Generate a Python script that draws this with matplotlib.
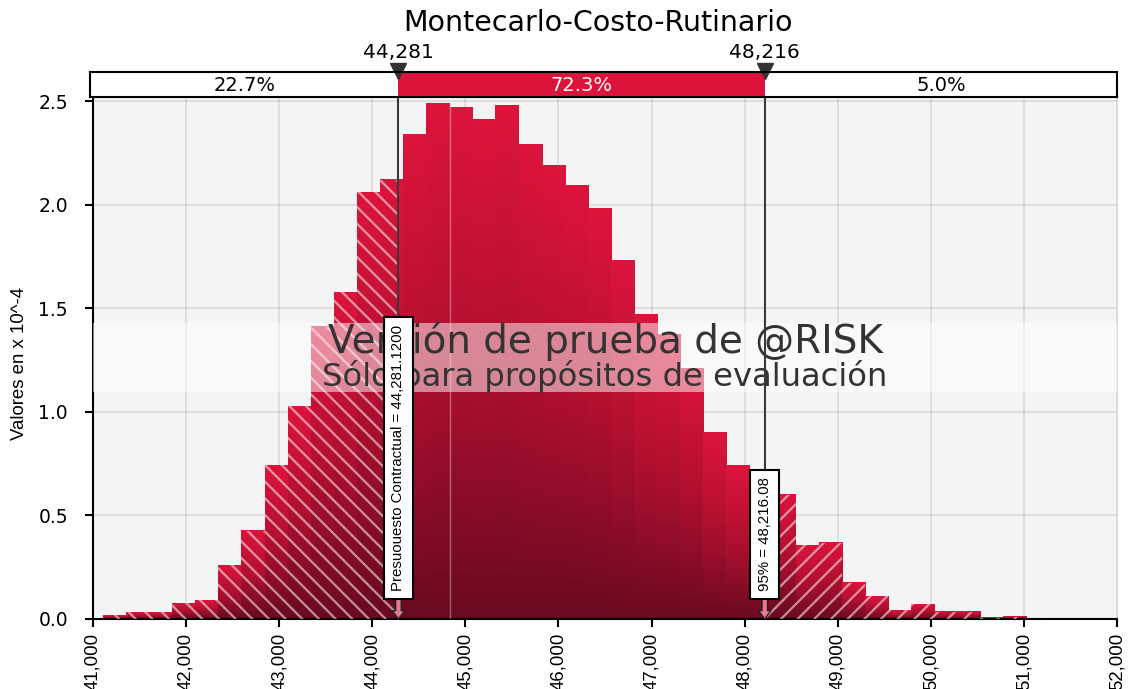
import numpy as np
import matplotlib
matplotlib.use("Agg")
import matplotlib.pyplot as plt
from matplotlib.colors import LinearSegmentedColormap
from matplotlib.patches import Rectangle

# histogram densities (x 10^-4), 40 equal bins between bin_lo and bin_hi
densities = [0.017, 0.033, 0.033, 0.075, 0.091, 0.26, 0.425, 0.742, 1.026, 1.41,
             1.576, 2.06, 2.12, 2.34, 2.49, 2.47, 2.41, 2.48, 2.29, 2.19,
             2.09, 1.98, 1.73, 1.47, 1.375, 1.21, 0.90, 0.74, 0.68, 0.60,
             0.356, 0.367, 0.175, 0.11, 0.043, 0.072, 0.034, 0.034, 0.005, 0.01]
bin_lo, bin_hi = 41107, 51027
budget = 44281.12
p95 = 48216.08
mean_mark = 44835
strip_pcts = ["22.7%", "72.3%", "5.0%"]
marker_labels = ["44,281", "48,216"]
budget_label = "Presuouesto Contractual = 44,281.1200"
p95_label = "95% = 48,216.08"
xticks = list(range(41000, 52001, 1000))
yticks = [0.0, 0.5, 1.0, 1.5, 2.0, 2.5]

NARROW = ["Liberation Sans", "DejaVu Sans"]
CRIMSON = "#dc143c"
cmap = LinearSegmentedColormap.from_list("bar", ["#6a0a20", "#b0102f", CRIMSON])
plt.rcParams["hatch.linewidth"] = 1.6

W, H = 1129, 689
fig = plt.figure(figsize=(W / 100, H / 100), dpi=100)
fig.patch.set_facecolor("white")

ax = fig.add_axes([93 / W, 1 - 619 / H, (1117 - 93) / W, (619 - 98) / H])
ax.set_facecolor("#f4f4f4")

edges = np.linspace(bin_lo, bin_hi, len(densities) + 1)
grad = np.linspace(0, 1, 64).reshape(-1, 1)
for i, h in enumerate(densities):
    l, r = edges[i], edges[i + 1]
    ax.imshow(grad, extent=(l, r, 0, h), cmap=cmap, aspect="auto",
              origin="lower", interpolation="bilinear", zorder=2)
    if l < budget:
        ax.bar(l, h, min(r, budget) - l, align="edge", facecolor="none",
               edgecolor="white", alpha=0.55, hatch="\\\\", linewidth=0, zorder=3)
    if r > p95:
        ax.bar(max(l, p95), h, r - max(l, p95), align="edge", facecolor="none",
               edgecolor="white", alpha=0.55, hatch="//", linewidth=0, zorder=3)

ax.set_xlim(41000, 52000)
ax.set_ylim(0, 2.5145)
ax.set_xticks(xticks)
ax.set_xticklabels([f"{t:,}" for t in xticks], rotation=90, fontsize=13.4, family=NARROW)
ax.set_yticks(yticks)
ax.set_yticklabels([f"{t:.1f}" for t in yticks], fontsize=13.5)
ax.grid(True, color="black", alpha=0.1, lw=1.2, zorder=4)
ax.tick_params(axis="both", direction="out", length=6, width=1.5, color="black")
ax.tick_params(axis="y", pad=12)
ax.tick_params(axis="x", pad=4)
for side in ["left", "bottom"]:
    ax.spines[side].set_linewidth(1.5)
ax.spines["top"].set_visible(False)
ax.spines["right"].set_color("#dddddd")

ax.axvline(mean_mark, color="white", alpha=0.35, lw=1, zorder=4)

# watermark band
ax.add_patch(Rectangle((0, 1.095 / 2.5145), 1, (1.428 - 1.095) / 2.5145,
                       transform=ax.transAxes, facecolor="white", alpha=0.5,
                       lw=0, zorder=5))
ax.text(0.5, 1.34 / 2.5145, "Versión de prueba de @RISK", transform=ax.transAxes,
        ha="center", va="center", fontsize=28, color="#333333", zorder=6)
ax.text(0.5, 1.17 / 2.5145, "Sólo para propósitos de evaluación", transform=ax.transAxes,
        ha="center", va="center", fontsize=23.2, color="#333333", zorder=6)

# marker lines with labels
for x, lab in [(budget, budget_label), (p95, p95_label)]:
    ax.axvline(x, color="#3a3a3a", lw=1.5, zorder=7)
    ax.annotate("", xy=(x, 0), xytext=(x, 0.115),
                arrowprops=dict(arrowstyle="simple,head_length=0.6,head_width=0.9,tail_width=0.4",
                                fc="#e87890", ec="#222222", lw=1.0, shrinkA=0, shrinkB=0),
                zorder=8)
    ax.text(x, 0.135, lab, rotation=90, ha="center", va="bottom", fontsize=10.8,
            family=NARROW, zorder=9,
            bbox=dict(boxstyle="square,pad=0.5", fc="white", ec="black", lw=1.5))

# percentage strip above the plot
sx0 = 41000 - 3000 / 93.1
sax = fig.add_axes([90 / W, 1 - 97 / H, (1117 - 90) / W, 25 / H])
sax.set_xlim(sx0, 52000)
sax.set_ylim(0, 1)
sax.axvspan(budget, p95, color=CRIMSON, lw=0)
sax.set_xticks([])
sax.set_yticks([])
for sp in sax.spines.values():
    sp.set_linewidth(1.5)
bounds = [sx0, budget, p95, 52000]
for i, pct in enumerate(strip_pcts):
    sax.text((bounds[i] + bounds[i + 1]) / 2, 0.45, pct, ha="center", va="center",
             fontsize=14, color="white" if i == 1 else "black")
for x, lab in zip([budget, p95], marker_labels):
    sax.plot([x], [1.04], marker="v", markersize=11, color="#333333", clip_on=False)
    sax.text(x, 1.8, lab, ha="center", va="center", fontsize=14.5)

fig.text(598 / W, 1 - 23 / H, "Montecarlo-Costo-Rutinario", ha="center", va="center",
         fontsize=20.5)
fig.text(20 / W, 1 - 363 / H, "Valores en x 10^-4", rotation=90, ha="center", va="center",
         fontsize=13.4, family=NARROW)

fig.savefig("out.png", dpi=100)
